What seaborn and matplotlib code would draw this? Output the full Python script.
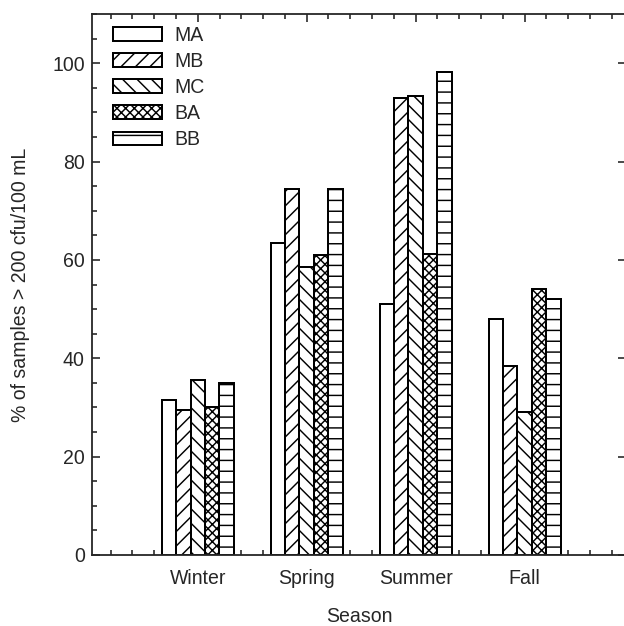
import pandas as pd
import matplotlib.pyplot as plt
import matplotlib.ticker as mticker
import seaborn as sns

seasons = ["Winter", "Spring", "Summer", "Fall"]
sites = ["MA", "MB", "MC", "BA", "BB"]
ma = [31.5, 63.5, 51.0, 48.0]
mb = [29.5, 74.5, 93.0, 38.5]
mc = [35.5, 58.5, 93.3, 29.0]
ba = [30.0, 61.0, 61.3, 54.0]
bb = [35.0, 74.5, 98.3, 52.0]
hatches = ["", "///", "\\\\\\", "xxxxx", "--"]

rows = []
for site, vals in zip(sites, [ma, mb, mc, ba, bb]):
    for season, v in zip(seasons, vals):
        rows.append({"season": season, "site": site, "pct": v})
df = pd.DataFrame(rows)

sns.set_style("ticks")
plt.rcParams["font.family"] = ["Liberation Sans", "DejaVu Sans"]
plt.rcParams["hatch.linewidth"] = 0.8
FS = 10.8

DPI = 130
fig = plt.figure(figsize=(624 / DPI, 626 / DPI), dpi=DPI)
ax = fig.add_axes([92 / 624, 71 / 626, 534 / 624, 541 / 626])

sns.barplot(data=df, x="season", y="pct", hue="site", order=seasons, hue_order=sites,
            palette=["white"] * 5, saturation=1, edgecolor="black", linewidth=1.1,
            width=0.66, legend=False, ax=ax)

for cont, h in zip(ax.containers, hatches):
    for bar in cont:
        bar.set_hatch(h)

ax.set_xlim(-0.97, 3.93)
ax.set_ylim(0, 110)
ax.set_xticks(range(len(seasons)))
ax.set_xticklabels(seasons, fontsize=FS)
ax.xaxis.set_minor_locator(mticker.MultipleLocator(0.2))
ax.yaxis.set_major_locator(mticker.MultipleLocator(20))
ax.yaxis.set_minor_locator(mticker.MultipleLocator(5))
ax.tick_params(axis="both", which="both", direction="in", top=True, right=True,
               width=0.9, labelsize=FS)
ax.tick_params(which="major", length=4.5)
ax.tick_params(which="minor", length=2.8)
ax.tick_params(axis="y", which="minor", right=False)
ax.tick_params(axis="x", pad=8)
ax.tick_params(axis="y", pad=4)
for s in ax.spines.values():
    s.set_linewidth(1.0)

ax.set_xlabel("Season", fontsize=FS, labelpad=10.5)
ax.set_ylabel("% of samples > 200 cfu/100 mL", fontsize=FS, labelpad=12)

ax.legend(ax.containers, sites, loc="upper left", bbox_to_anchor=(0.039, 0.978),
          frameon=False, fontsize=FS, handlelength=2.5, handleheight=0.67,
          handletextpad=0.65, labelspacing=0.36, borderpad=0, borderaxespad=0)

plt.savefig("out.png", dpi=DPI)
plt.close()
